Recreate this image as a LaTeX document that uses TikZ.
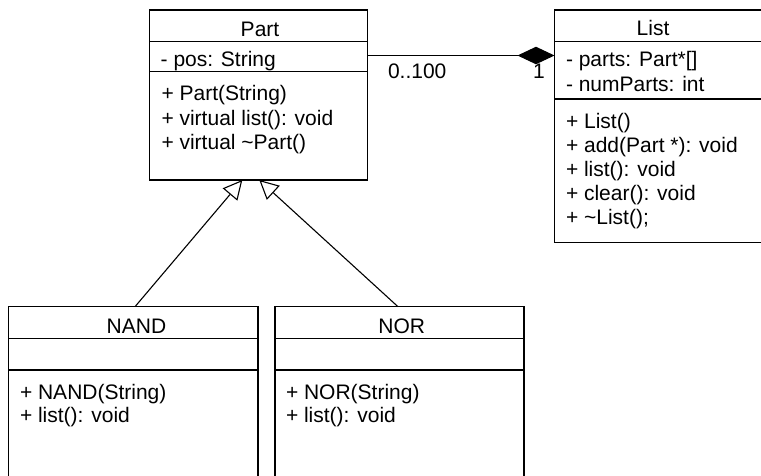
\documentclass[tikz,border=0pt]{standalone}
\usepackage{fontspec}
\setmainfont{Liberation Sans}
\usetikzlibrary{arrows.meta}
\begin{document}
\begin{tikzpicture}[x=1pt,y=-1pt, line width=1.1pt,
  classbox/.style={draw, rectangle, inner sep=0pt, outer sep=0pt, anchor=north west},
  txt/.style={inner sep=0pt, outer sep=0pt, anchor=base west, font=\fontsize{21}{24}\selectfont},
  ttl/.style={txt, anchor=base},
  gen/.style={-{Triangle[open, fill=white, length=19pt, width=19pt]}},
  comp/.style={-{Diamond[length=37pt, width=17.5pt]}}]
\useasboundingbox (0,0) rectangle (761,475);
\clip (0,0) rectangle (761,475);

% class boxes
\node[classbox, minimum width=218.2pt, minimum height=170pt] (Part) at (149.5,10) {};
\node[classbox, minimum width=230pt, minimum height=232.7pt] (List) at (554.5,10) {};
\node[classbox, minimum width=249.5pt, minimum height=200pt] (NAND) at (8.5,306.7) {};
\node[classbox, minimum width=249pt, minimum height=200pt] (NOR) at (275,306.7) {};

% compartment dividers
\draw ([yshift=-31.7pt]Part.north west) -- ([yshift=-31.7pt]Part.north east);
\draw ([yshift=-61.7pt]Part.north west) -- ([yshift=-61.7pt]Part.north east);
\draw ([yshift=-31.7pt]List.north west) -- ([yshift=-31.7pt]List.north east);
\draw ([yshift=-89pt]List.north west) -- ([yshift=-89pt]List.north east);
\draw ([yshift=-31.6pt]NAND.north west) -- ([yshift=-31.6pt]NAND.north east);
\draw ([yshift=-63.3pt]NAND.north west) -- ([yshift=-63.3pt]NAND.north east);
\draw ([yshift=-31.6pt]NOR.north west) -- ([yshift=-31.6pt]NOR.north east);
\draw ([yshift=-63.3pt]NOR.north west) -- ([yshift=-63.3pt]NOR.north east);

% Part texts
\node[ttl] (pt) at (260,36) {Part};
\node[txt] (p1) at (160.7,66.7) {- pos: String};
\node[txt] (p2) at (161.5,100.5) {+ Part(String)};
\node[txt] (p3) at (161.5,125) {+ virtual list(): void};
\node[txt] (p4) at (161.5,149.5) {+ virtual \textasciitilde Part()};

% List texts
\node[ttl] (lt) at (653,35) {List};
\node[txt] (l1) at (566,66.7) {- parts: Part*[]};
\node[txt] (l2) at (566,91.7) {- numParts: int};
\node[txt] (l3) at (566,128) {+ List()};
\node[txt] (l4) at (566,152) {+ add(Part *): void};
\node[txt] (l5) at (566,176) {+ list(): void};
\node[txt] (l6) at (566,200) {+ clear(): void};
\node[txt] (l7) at (566,224) {+ \textasciitilde List();};

% NAND texts
\node[ttl] (nt) at (136.5,333.3) {NAND};
\node[txt] (n1) at (20,399.3) {+ NAND(String)};
\node[txt] (n2) at (20,422) {+ list(): void};

% NOR texts
\node[ttl] (rt) at (401.7,333.3) {NOR};
\node[txt] (r1) at (286,399.3) {+ NOR(String)};
\node[txt] (r2) at (286,422) {+ list(): void};

% multiplicities
\node[txt] (m1) at (388,78) {0..100};
\node[txt] (m2) at (533,78) {1};

% connectors
\draw[comp] ([yshift=-45.5pt]Part.north east) -- ([yshift=-45.5pt]List.north west);
\draw[gen] ([xshift=126.5pt]NAND.north west) -- ([xshift=92.8pt]Part.south west);
\draw[gen] ([xshift=123pt]NOR.north west) -- ([xshift=109.8pt]Part.south west);
\end{tikzpicture}
\end{document}
